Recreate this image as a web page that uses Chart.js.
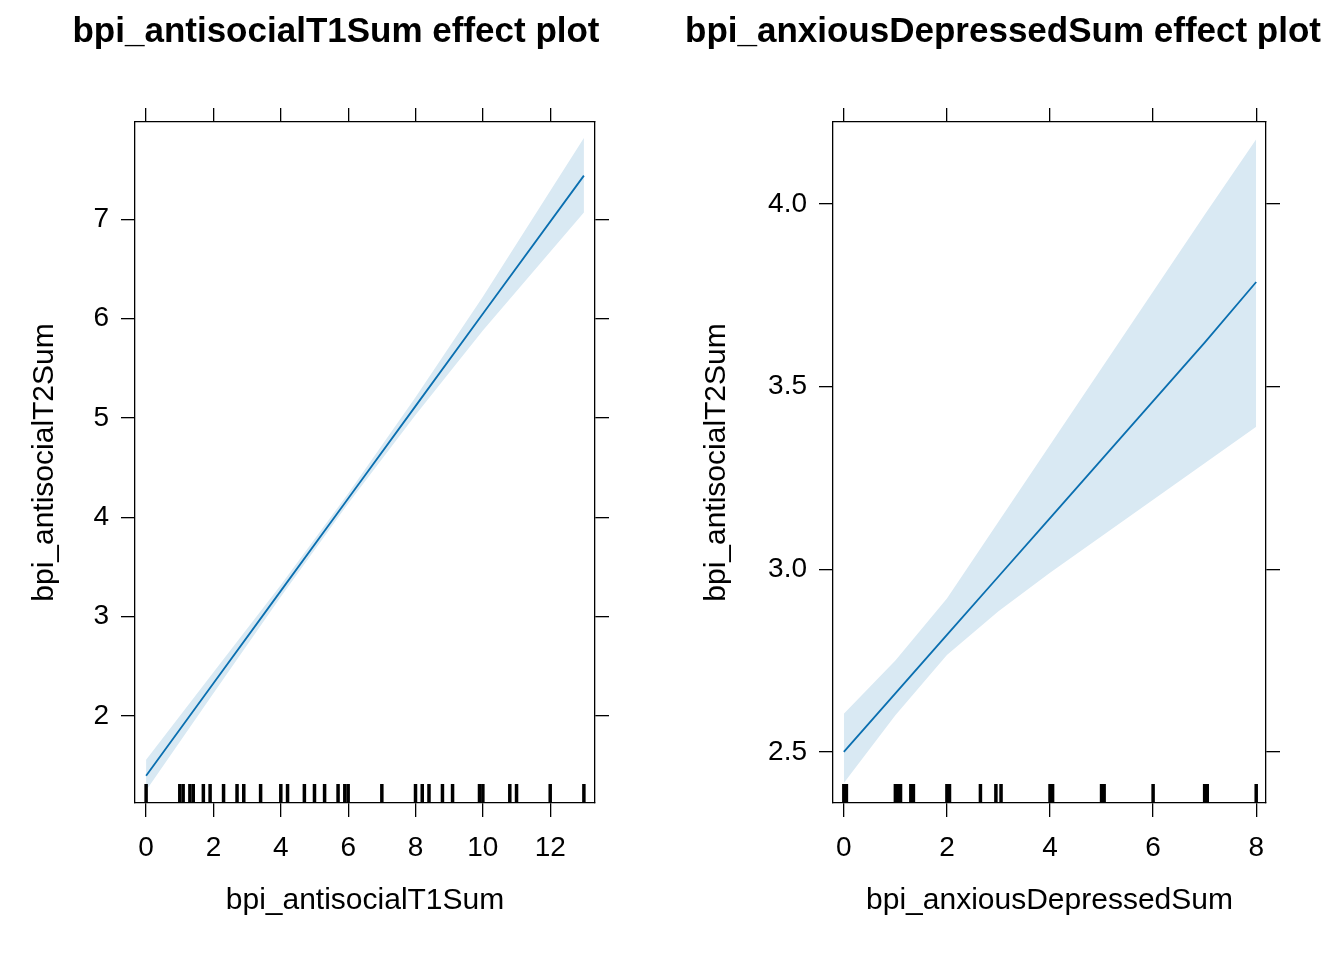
<!DOCTYPE html>
<html><head><meta charset="utf-8">
<script src="https://cdn.jsdelivr.net/npm/chart.js@4"></script>
<style>body{margin:0;background:#fff}#wrap{display:flex;width:1344px;height:960px;overflow:hidden}canvas{display:block}</style>
</head><body><div id="wrap"><div style="width:672px;height:960px"><canvas id="c1"></canvas></div><div style="width:672px;height:960px"><canvas id="c2"></canvas></div></div>
<script>
// left panel
const x1 = [0, 2, 4, 6, 8, 10, 13];
const fit1 = [1.4, 2.33, 3.26, 4.19, 5.12, 6.05, 7.44];
const upper1 = [1.56, 2.44, 3.32, 4.24, 5.21, 6.22, 7.82];
const lower1 = [1.25, 2.23, 3.20, 4.14, 5.03, 5.88, 7.07];
const rug1 = [0, 1, 1.1, 1.3, 1.4, 1.7, 1.9, 2.3, 2.7, 2.9, 3.4, 4, 4.2, 4.7, 5, 5.3, 5.7, 5.9, 6, 7, 8, 8.2, 8.4, 8.8, 9.1, 9.9, 10, 10.8, 11, 12, 13];
// right panel
const x2 = [0, 1, 2, 3, 4, 5, 6, 7, 8];
const fit2 = [2.5, 2.66, 2.82, 2.98, 3.14, 3.3, 3.46, 3.62, 3.786];
const upper2 = [2.604, 2.75, 2.92, 3.13, 3.34, 3.55, 3.76, 3.97, 4.177];
const lower2 = [2.415, 2.6, 2.765, 2.885, 2.99, 3.09, 3.19, 3.29, 3.39];
const rug2 = [0, 0.05, 1, 1.05, 1.1, 1.3, 1.35, 2, 2.05, 2.65, 2.95, 3.05, 4, 4.05, 5, 5.05, 6, 7, 7.05, 8];

const FONT = 'Liberation Sans, Arial, sans-serif';
const pts = (xs, ys) => xs.map((x, i) => ({x, y: ys[i]}));

function make(id, cfg) {
  const textPlugin = {
    id: 'texts',
    afterDraw(chart) {
      const c = chart.ctx, a = chart.chartArea;
      c.save();
      c.fillStyle = '#000';
      c.textAlign = 'center'; c.textBaseline = 'middle';
      c.font = 'bold 35px ' + FONT;
      c.fillText(cfg.title, cfg.titleX, 32);
      c.font = '30px ' + FONT;
      c.fillText(cfg.xlab, (a.left + a.right) / 2, 901);
      c.translate(cfg.ylabX, (a.top + a.bottom) / 2);
      c.rotate(-Math.PI / 2);
      c.fillText('bpi_antisocialT2Sum', 0, 0);
      c.restore();
      // rug
      c.save();
      c.strokeStyle = '#000'; c.lineWidth = 3.5;
      const xs = chart.scales.x;
      cfg.rug.forEach(v => {
        const px = xs.getPixelForValue(v);
        c.beginPath(); c.moveTo(px, a.bottom - 19); c.lineTo(px, a.bottom); c.stroke();
      });
      c.restore();
    }
  };
  const tickGrid = {drawOnChartArea: false, drawTicks: true, tickLength: 14, color: '#000', lineWidth: 1.3};
  const border = {display: true, color: '#000', width: 1.3};
  new Chart(document.getElementById(id), {
    type: 'line',
    data: {datasets: [
      {data: cfg.up, borderWidth: 0, pointRadius: 0, fill: '+1', backgroundColor: 'rgb(217,233,243)', order: 2},
      {data: cfg.lo, borderWidth: 0, pointRadius: 0, fill: false, order: 1},
      {data: cfg.fit, borderColor: '#0a6fb0', borderWidth: 1.8, pointRadius: 0, fill: false, order: 0}
    ]},
    options: {
      animation: false, responsive: true, maintainAspectRatio: false,
      layout: {padding: 0},
      plugins: {legend: {display: false}, tooltip: {enabled: false}},
      scales: {
        x: {type: 'linear', position: 'bottom', min: cfg.xmin, max: cfg.xmax, grid: tickGrid, border,
            ticks: {color: '#000', font: {size: 28, family: FONT}, padding: 14, maxRotation: 0, autoSkip: false},
            afterBuildTicks: s => { s.ticks = cfg.xt.map(v => ({value: v})); },
            afterFit: s => { s.height = 960 - 803; }},
        xTop: {type: 'linear', position: 'top', min: cfg.xmin, max: cfg.xmax, grid: tickGrid, border,
            ticks: {display: false},
            afterBuildTicks: s => { s.ticks = cfg.xt.map(v => ({value: v})); },
            afterFit: s => { s.height = 122; }},
        y: {type: 'linear', position: 'left', min: cfg.ymin, max: cfg.ymax, grid: tickGrid, border,
            ticks: {color: '#000', font: {size: 28, family: FONT}, padding: 12, callback: cfg.yfmt},
            afterBuildTicks: s => { s.ticks = cfg.yt.map(v => ({value: v})); },
            afterFit: s => { s.width = cfg.left; }},
        yRight: {type: 'linear', position: 'right', min: cfg.ymin, max: cfg.ymax, grid: tickGrid, border,
            ticks: {display: false},
            afterBuildTicks: s => { s.ticks = cfg.yt.map(v => ({value: v})); },
            afterFit: s => { s.width = 672 - cfg.right; }}
      }
    },
    plugins: [textPlugin]
  });
}

make('c1', {title: 'bpi_antisocialT1Sum effect plot', titleX: 336, xlab: 'bpi_antisocialT1Sum', ylabX: 45,
  up: pts(x1, upper1), lo: pts(x1, lower1), fit: pts(x1, fit1), rug: rug1,
  xmin: -0.33, xmax: 13.33, ymin: 1.125, ymax: 7.98, xt: [0, 2, 4, 6, 8, 10, 12], yt: [2, 3, 4, 5, 6, 7],
  yfmt: v => v, left: 135, right: 595});
make('c2', {title: 'bpi_anxiousDepressedSum effect plot', titleX: 1003 - 672, xlab: 'bpi_anxiousDepressedSum', ylabX: 717 - 672,
  up: pts(x2, upper2), lo: pts(x2, lower2), fit: pts(x2, fit2), rug: rug2,
  xmin: -0.21, xmax: 8.19, ymin: 2.36, ymax: 4.224, xt: [0, 2, 4, 6, 8], yt: [2.5, 3.0, 3.5, 4.0],
  yfmt: v => v.toFixed(1), left: 833 - 672, right: 1266 - 672});
</script>
</body></html>
